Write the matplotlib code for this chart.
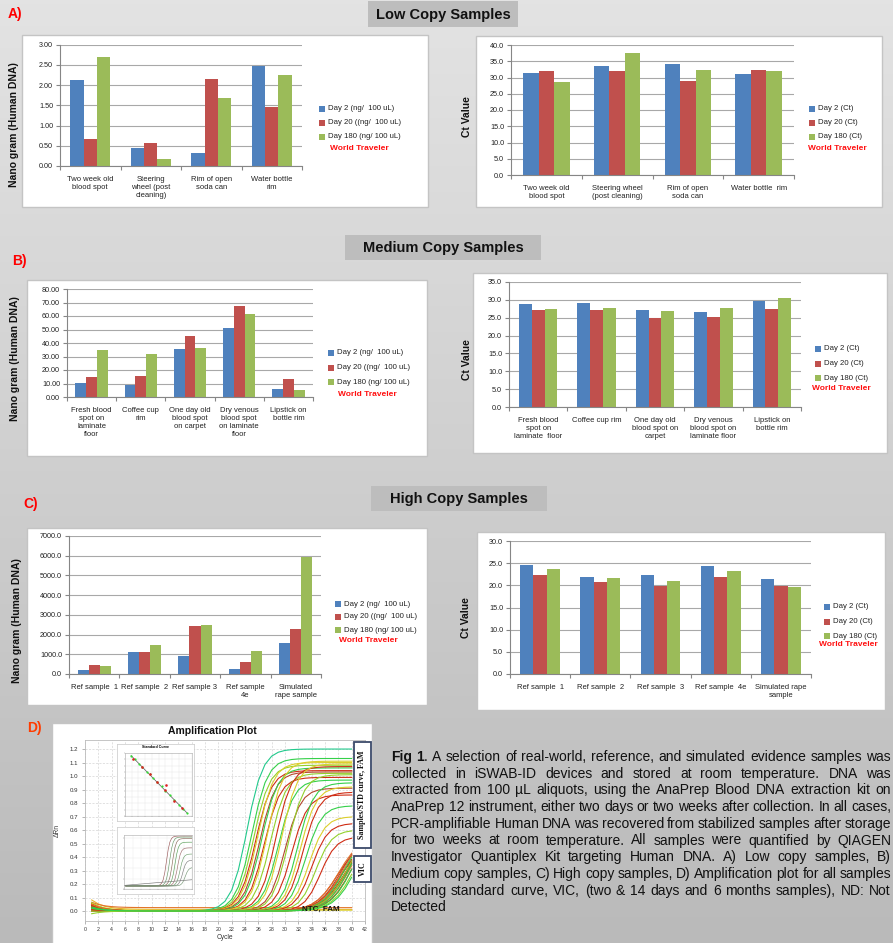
import numpy as np
import matplotlib
matplotlib.use("Agg")
import matplotlib.pyplot as plt
from matplotlib.patches import Rectangle
from matplotlib.colors import LinearSegmentedColormap
from matplotlib.ticker import FormatStrFormatter, MultipleLocator

plt.rcParams['font.family'] = ['Liberation Sans', 'DejaVu Sans']

W, H = 893, 943
fig = plt.figure(figsize=(W / 100, H / 100), dpi=100)

# ---------------- data ----------------
SERIES_COLORS = ['#4f81bd', '#c0504d', '#9bbb59']
ng_legend = ['Day 2 (ng/  100 uL)', 'Day 20 ((ng/  100 uL)', 'Day 180 (ng/ 100 uL)']
ct_legend = ['Day 2 (Ct)', 'Day 20 (Ct)', 'Day 180 (Ct)']

low_cats_ng = ['Two week old\nblood spot', 'Steering\nwheel (post\ncleaning)',
               'Rim of open\nsoda can', 'Water bottle\nrim']
low_cats_ct = ['Two week old\nblood spot', 'Steering wheel\n(post cleaning)',
               'Rim of open\nsoda can', 'Water bottle  rim']
low_ng_day2 = [2.12, 0.45, 0.33, 2.48]
low_ng_day20 = [0.68, 0.57, 2.14, 1.47]
low_ng_day180 = [2.70, 0.17, 1.69, 2.25]
low_ct_day2 = [31.3, 33.4, 34.1, 31.0]
low_ct_day20 = [31.9, 32.0, 28.9, 32.2]
low_ct_day180 = [28.5, 37.5, 32.2, 31.9]

med_cats_ng = ['Fresh blood\nspot on\nlaminate\nfloor', 'Coffee cup\nrim',
               'One day old\nblood spot\non carpet', 'Dry venous\nblood spot\non laminate\nfloor',
               'Lipstick on\nbottle rim']
med_cats_ct = ['Fresh blood\nspot on\nlaminate  floor', 'Coffee cup rim',
               'One day old\nblood spot on\ncarpet', 'Dry venous\nblood spot on\nlaminate floor',
               'Lipstick on\nbottle rim']
med_ng_day2 = [10.4, 8.6, 35.6, 51.4, 5.9]
med_ng_day20 = [14.8, 15.3, 45.4, 67.4, 13.3]
med_ng_day180 = [34.6, 31.9, 36.0, 61.7, 4.9]
med_ct_day2 = [28.9, 29.2, 27.1, 26.5, 29.8]
med_ct_day20 = [27.2, 27.2, 24.9, 25.1, 27.5]
med_ct_day180 = [27.5, 27.7, 26.9, 27.7, 30.6]

high_cats_ng = ['Ref sample  1', 'Ref sample  2', 'Ref sample 3', 'Ref sample\n4e',
                'Simulated\nrape sample']
high_cats_ct = ['Ref sample  1', 'Ref sample  2', 'Ref sample  3', 'Ref sample  4e',
                'Simulated rape\nsample']
high_ng_day2 = [186, 1133, 913, 237, 1589]
high_ng_day20 = [457, 1099, 2435, 626, 2266]
high_ng_day180 = [423, 1454, 2502, 1167, 5918]
high_ct_day2 = [24.6, 21.8, 22.3, 24.3, 21.4]
high_ct_day20 = [22.4, 20.8, 19.9, 21.8, 19.9]
high_ct_day180 = [23.7, 21.7, 20.9, 23.3, 19.7]

# amplification plot: per-curve threshold cycle, plateau (delta Rn), colour, start offset
AMP_COLORS = {'teal': '#22c98c', 'green': '#35d04a', 'lime': '#93d12c', 'yellow': '#dccf2c',
              'gold': '#e8b42a', 'orange': '#e2742a', 'red': '#cf2c14', 'brown': '#b4472e'}
amp_cycles = np.arange(1, 41)
fam_ct = [24.3, 25.0, 25.3, 25.6, 25.9, 26.2, 26.5, 26.9, 27.3, 27.8, 28.6, 29.0,
          29.5, 30.0, 30.5, 31.0, 31.9, 32.3, 32.7, 33.1, 33.6, 34.0, 34.6, 35.3]
fam_top = [1.20, 1.13, 1.08, 1.04, 1.10, 1.03, 1.06, 0.99, 1.11, 1.02, 1.07, 0.97,
           1.09, 0.91, 1.01, 0.86, 0.95, 0.92, 0.88, 0.78, 0.70, 0.65, 0.60, 0.55]
fam_color = ['teal', 'green', 'lime', 'red', 'yellow', 'brown', 'green', 'red', 'yellow', 'lime',
             'red', 'green', 'yellow', 'brown', 'lime', 'red', 'green', 'yellow', 'red', 'green',
             'yellow', 'red', 'lime', 'red']
fam_start = [0.03, 0.06, 0.02, 0.04, 0.00, 0.03, 0.05, 0.01, 0.02, 0.04, 0.03, 0.00,
             0.02, 0.05, 0.01, 0.03, 0.02, 0.04, 0.00, 0.03, 0.06, 0.01, 0.02, 0.03]
vic_ct = [37.8, 38.0, 38.2, 38.4, 38.5, 38.7, 38.9, 39.0, 39.2, 39.4, 39.6, 39.8,
          40.0, 40.3, 40.6, 41.0]
vic_top = [0.52, 0.56, 0.50, 0.58, 0.54, 0.60, 0.55, 0.62, 0.57, 0.63, 0.60, 0.66,
           0.62, 0.68, 0.66, 0.70]
vic_color = ['red', 'orange', 'red', 'brown', 'red', 'orange', 'red', 'green', 'red', 'lime',
             'orange', 'green', 'red', 'green', 'lime', 'green']
vic_start = [0.05, 0.03, 0.04, 0.02, 0.03, 0.01, 0.04, 0.02, 0.03, 0.00, 0.05, 0.02,
             0.01, 0.03, -0.02, 0.02]
ntc_level = [0.012, 0.025, 0.006]
ntc_color = ['gold', 'orange', 'yellow']
ntc_start = [0.07, 0.04, 0.05]

# standard-curve inset (log quantity vs Ct, arbitrary inset units)
std_green_x = [0.9, 1.5, 2.15, 2.55, 3.25, 3.75, 4.25, 4.85, 5.5, 6.0, 6.65, 7.35, 8.0, 8.65, 9.25]
std_green_y = [9.6, 9.0, 8.2, 7.7, 7.0, 6.6, 6.0, 5.4, 4.7, 4.0, 3.3, 2.6, 1.8, 1.15, 0.5]
std_red_x = [1.25, 2.55, 3.75, 4.85, 6.05, 6.0, 7.35, 8.5]
std_red_y = [9.1, 7.7, 6.6, 5.4, 5.0, 4.2, 2.4, 1.3]
# small raw-signal inset
mini_ct = [25.0, 26.8, 28.5, 30.0, 31.5, 33.0, 34.5, 36.0]
mini_top = [0.97, 0.95, 0.92, 0.85, 0.74, 0.62, 0.50, 0.36]
mini_color = ['#9a5a5a', '#6a9a6a', '#8a6a5a', '#5aa05a', '#a07070', '#70a070', '#808080', '#7a9a7a']
mini_drift_x = [0, 40]
mini_drift_y = [0.07, 0.18]

caption_lines = [
    "Fig 1. A selection of real-world, reference, and  simulated evidence samples was",
    "collected in iSWAB-ID devices and stored at room temperature.    DNA was",
    "extracted from 100 \u00b5L aliquots, using the AnaPrep Blood DNA extraction kit on",
    "AnaPrep 12 instrument, either two days or two weeks after collection.  In all cases,",
    "PCR-amplifiable Human DNA was recovered from stabilized samples after storage",
    "for two weeks at room temperature. All samples were quantified by QIAGEN",
    "Investigator Quantiplex Kit targeting Human DNA. A) Low copy samples, B)",
    "Medium copy samples, C) High copy samples, D) Amplification plot for all samples",
    "including standard curve, VIC, (two & 14 days and 6 months samples), ND: Not",
    "Detected",
]


# ---------------- helpers ----------------
def px_axes(x0, y0, x1, y1, z=1):
    ax = fig.add_axes([x0 / W, 1 - y1 / H, (x1 - x0) / W, (y1 - y0) / H])
    ax.set_zorder(z)
    return ax


bg = px_axes(0, 0, W, H, z=0)
grad = np.linspace(0, 1, 256)[:, None]
bg.imshow(grad, extent=[0, W, H, 0], aspect='auto',
          cmap=LinearSegmentedColormap.from_list('bgg', ['#e3e3e3', '#cfcfcf', '#bababa']))
bg.set_xlim(0, W)
bg.set_ylim(H, 0)
bg.axis('off')

overlay = px_axes(0, 0, W, H, z=8)
overlay.set_xlim(0, W)
overlay.set_ylim(H, 0)
overlay.axis('off')
overlay.patch.set_visible(False)

GRAY = '#868686'


def section_title(x0, y0, x1, y1, text):
    bg.add_patch(Rectangle((x0, y0), x1 - x0, y1 - y0, facecolor='#bdbdbd', edgecolor='none'))
    bg.text((x0 + x1) / 2, (y0 + y1) / 2 + 0.5, text, fontsize=10.5, fontweight='bold',
            ha='center', va='center', color='#111111')


def bar_panel(box, rect, cats, values, ymax, ystep, fmt, leg_labels, leg, ylabel, ylab_xy):
    bx0, by0, bx1, by1 = box
    bg.add_patch(Rectangle((bx0, by0), bx1 - bx0, by1 - by0, facecolor='white',
                           edgecolor='#c4c4c4', lw=1.0))
    ax = px_axes(*rect)
    ax.patch.set_visible(False)
    x = np.arange(len(cats))
    for k, (vals, col) in enumerate(zip(values, SERIES_COLORS)):
        ax.bar(x + (k - 1) * 0.22, vals, width=0.22, color=col, edgecolor='none', zorder=2)
    ax.set_xlim(-0.5, len(cats) - 0.5)
    ax.set_ylim(0, ymax)
    ax.yaxis.set_major_locator(MultipleLocator(ystep))
    ax.yaxis.set_major_formatter(FormatStrFormatter(fmt))
    ax.set_xticks(x)
    ax.set_xticklabels(cats, fontsize=5.5, linespacing=1.2, color='#222222')
    ax.set_xticks(np.arange(-0.5, len(cats)), minor=True)
    ax.tick_params(axis='x', which='major', length=0, pad=7)
    ax.tick_params(axis='x', which='minor', length=3, color=GRAY, width=0.8)
    ax.tick_params(axis='y', length=3, color=GRAY, width=0.8, labelsize=5.2, pad=2,
                   labelcolor='#222222')
    ax.yaxis.grid(True, color='#a8a8a8', lw=0.8)
    ax.set_axisbelow(True)
    for s in ('top', 'right'):
        ax.spines[s].set_visible(False)
    for s in ('left', 'bottom'):
        ax.spines[s].set_color(GRAY)
        ax.spines[s].set_linewidth(0.8)
    sx, sy, dy, wx, wy = leg
    for k, (lab, col) in enumerate(zip(leg_labels, SERIES_COLORS)):
        yy = sy + k * dy
        bg.add_patch(Rectangle((sx, yy - 3), 6, 6, facecolor=col, edgecolor='none'))
        bg.text(sx + 9, yy, lab, fontsize=5.6, ha='left', va='center', color='#222222')
    bg.text(wx, wy, 'World Traveler', fontsize=6, fontweight='bold', color='#ff1010',
            ha='left', va='center')
    bg.text(ylab_xy[0], ylab_xy[1], ylabel, rotation=90, fontsize=7.5, fontweight='bold',
            ha='center', va='center', color='#111111')
    return ax


# ---------------- section headers ----------------
section_title(368, 1, 518, 27, 'Low Copy Samples')
section_title(345, 235, 541, 260, 'Medium Copy Samples')
section_title(371, 486, 547, 511, 'High Copy Samples')
for lx, ly, lab, col in [(8, 14, 'A)', '#ff0000'), (12, 261, 'B)', '#ff0000'),
                         (23, 504, 'C)', '#ff0000'), (27, 728, 'D)', '#ff3c00')]:
    bg.text(lx, ly, lab, fontsize=10, fontweight='bold', color=col, ha='left', va='center')

# ---------------- bar charts ----------------
bar_panel((22, 35, 428, 207), (60, 44.7, 302, 166), low_cats_ng,
          [low_ng_day2, low_ng_day20, low_ng_day180], 3.0, 0.5, '%.2f', ng_legend,
          (319, 109, 14, 330, 148), 'Nano gram (Human DNA)', (14, 125))
bar_panel((476, 36, 882, 207), (511, 45, 794, 175), low_cats_ct,
          [low_ct_day2, low_ct_day20, low_ct_day180], 40, 5, '%.1f', ct_legend,
          (809, 109, 14, 808, 148), 'Ct Value', (467, 117))
bar_panel((27, 280, 427, 456), (67, 289, 313, 397), med_cats_ng,
          [med_ng_day2, med_ng_day20, med_ng_day180], 80, 10, '%.2f', ng_legend,
          (328, 353, 14.5, 338, 395), 'Nano gram (Human DNA)', (15, 359))
bar_panel((473, 273, 887, 453), (509, 282, 801, 407), med_cats_ct,
          [med_ct_day2, med_ct_day20, med_ct_day180], 35, 5, '%.1f', ct_legend,
          (815, 349, 14.5, 812, 388), 'Ct Value', (467, 360))
bar_panel((27, 528, 427, 705), (69, 536, 321, 674), high_cats_ng,
          [high_ng_day2, high_ng_day20, high_ng_day180], 7000, 1000, '%.1f', ng_legend,
          (335, 604, 13, 339, 640), 'Nano gram (Human DNA)', (17, 621))
bar_panel((477, 532, 885, 710), (510, 541, 811, 674), high_cats_ct,
          [high_ct_day2, high_ct_day20, high_ct_day180], 30, 5, '%.1f', ct_legend,
          (824, 607, 14.5, 819, 644), 'Ct Value', (466, 618))

# ---------------- amplification plot ----------------
bg.add_patch(Rectangle((52, 723), 320, 240, facecolor='white', edgecolor='#c4c4c4', lw=1.0))
bg.text(212, 731, 'Amplification Plot', fontsize=7.5, fontweight='bold', ha='center',
        va='center', color='#111111')

axd = px_axes(85, 740, 365, 921, z=2)
axd.patch.set_visible(False)
axd.set_xlim(0, 42)
axd.xaxis.set_major_locator(MultipleLocator(2))
axd.yaxis.set_major_locator(MultipleLocator(0.1))
axd.yaxis.set_major_formatter(FormatStrFormatter('%.1f'))
axd.set_ylim(-0.074, 1.267)
axd.tick_params(axis='x', labelsize=3.8, length=2, width=0.5, color='#999999', pad=2,
                labelcolor='#333333')
axd.tick_params(axis='y', labelsize=4.4, length=2, width=0.5, color='#999999', pad=3,
                labelcolor='#333333')
axd.grid(True, color='#d4d4d4', lw=0.5, ls=(0, (3, 2)))
axd.set_axisbelow(True)
for s in axd.spines.values():
    s.set_color('#bbbbbb')
    s.set_linewidth(0.6)
axd.set_xlabel('Cycle', fontsize=4.8, labelpad=2, color='#333333')
axd.set_ylabel('\u0394Rn', fontsize=4.8, labelpad=6, color='#333333')


def amp_curve(ct, top, slope, start):
    return top / (1 + np.exp(-(amp_cycles - ct) / slope)) + start * np.exp(-(amp_cycles - 1) / 1.8)


for lvl, col, st in zip(ntc_level, ntc_color, ntc_start):
    axd.plot(amp_cycles, lvl + st * np.exp(-(amp_cycles - 1) / 1.8), color=AMP_COLORS[col], lw=0.8)
for ct, top, col, st in zip(fam_ct, fam_top, fam_color, fam_start):
    axd.plot(amp_cycles, amp_curve(ct, top, 1.2, st), color=AMP_COLORS[col], lw=0.8)
for ct, top, col, st in zip(vic_ct, vic_top, vic_color, vic_start):
    axd.plot(amp_cycles, amp_curve(ct, top, 1.7, st), color=AMP_COLORS[col], lw=0.8)

# standard curve inset
box1 = px_axes(117, 744, 194, 821, z=4)
box1.set_xticks([]); box1.set_yticks([])
for s in box1.spines.values():
    s.set_color('#c8c8c8'); s.set_linewidth(0.5)
box1.text(0.5, 0.985, 'Standard Curve', fontsize=2.6, fontweight='bold', ha='center', va='top',
          transform=box1.transAxes)
axs = px_axes(125, 753, 192, 816, z=5)
axs.set_xlim(0, 10); axs.set_ylim(0, 10)
axs.plot([std_green_x[0], std_green_x[-1]], [std_green_y[0], std_green_y[-1]], color='#555555', lw=0.5)
axs.scatter(std_green_x, std_green_y, s=2.5, color='#33dd33', zorder=3, linewidths=0)
axs.scatter(std_red_x, std_red_y, s=3.5, color='#dd2222', zorder=4, linewidths=0)
axs.set_xticks(np.arange(0, 11, 1)); axs.set_yticks(np.arange(0, 11, 1))
axs.tick_params(length=1, width=0.3, labelbottom=False, labelleft=False, color='#888888')
axs.grid(True, color='#e4e4e4', lw=0.3)
for s in axs.spines.values():
    s.set_color('#aaaaaa'); s.set_linewidth(0.4)

# raw signal inset
box2 = px_axes(117, 827, 194, 894, z=4)
box2.set_xticks([]); box2.set_yticks([])
for s in box2.spines.values():
    s.set_color('#c8c8c8'); s.set_linewidth(0.5)
axm = px_axes(124, 835, 192, 889, z=5)
axm.set_xlim(0, 40); axm.set_ylim(0, 1.05)
for ct, top, col in zip(mini_ct, mini_top, mini_color):
    yv = 0.06 + top / (1 + np.exp(-(amp_cycles - ct) / 1.0))
    axm.plot(amp_cycles, yv, color=col, lw=0.45)
axm.plot(mini_drift_x, mini_drift_y, color='#777777', lw=0.45)
axm.set_xticks(np.arange(0, 41, 5)); axm.set_yticks(np.arange(0, 1.1, 0.2))
axm.tick_params(length=1, width=0.3, labelbottom=False, labelleft=False, color='#888888')
axm.grid(True, color='#e8e8e8', lw=0.3)
for s in axm.spines.values():
    s.set_color('#aaaaaa'); s.set_linewidth(0.4)

# labelled brackets at the right of the amplification plot
for (y0, y1, lab) in [(742, 848, 'Samples/STD curve, FAM'), (856, 882, 'VIC')]:
    overlay.add_patch(Rectangle((354, y0), 17, y1 - y0, facecolor='white', edgecolor='#3c4a6a',
                                lw=1.3, zorder=3))
    overlay.text(362.5, (y0 + y1) / 2, lab, rotation=90, fontsize=5.8, fontweight='bold',
                 family=['Liberation Serif', 'DejaVu Serif'], ha='center', va='center',
                 color='#111111', zorder=4)
overlay.text(302, 909, 'NTC, FAM', fontsize=5.8, fontweight='bold', ha='left', va='center',
             color='#111111')

# ---------------- caption (justified) ----------------
renderer = fig.canvas.get_renderer()
cap_x0, cap_x1, cap_y0, cap_dy, cap_fs = 391, 891, 757, 16.7, 10.0
min_gap = 2.5


def word_segments(li, wi, w):
    if li == 0 and wi == 0:
        return [(w, 'bold')]
    if li == 0 and wi == 1:
        return [(w[:-1], 'bold'), (w[-1], 'normal')]
    return [(w, 'normal')]


def measure(s, fs, wt='normal'):
    t = bg.text(0, -50, s, fontsize=fs, fontweight=wt)
    w = t.get_window_extent(renderer).width
    t.remove()
    return w


space_w = measure('a a', cap_fs) - measure('aa', cap_fs)

for li, line in enumerate(caption_lines):
    words = line.split()
    y = cap_y0 + li * cap_dy
    last = li == len(caption_lines) - 1
    fs = cap_fs
    natural = sum(measure(s, fs, wt) for wi, w in enumerate(words)
                  for s, wt in word_segments(li, wi, w))
    if not last and natural + min_gap * (len(words) - 1) > cap_x1 - cap_x0:
        fs = cap_fs * (cap_x1 - cap_x0 - min_gap * (len(words) - 1)) / natural
    groups, widths = [], []
    for wi, w in enumerate(words):
        segs, total = [], 0.0
        for s, wt in word_segments(li, wi, w):
            t = bg.text(0, y, s, fontsize=fs, fontweight=wt, ha='left', va='center',
                        color='#111111')
            sw = t.get_window_extent(renderer).width
            segs.append((t, sw)); total += sw
        groups.append(segs); widths.append(total)
    if not last and len(words) > 1:
        gap = (cap_x1 - cap_x0 - sum(widths)) / (len(words) - 1)
    else:
        gap = space_w
    x = cap_x0
    for segs, ww in zip(groups, widths):
        xx = x
        for t, sw in segs:
            t.set_x(xx); xx += sw
        x += ww + gap

fig.savefig('out.png', dpi=100)
